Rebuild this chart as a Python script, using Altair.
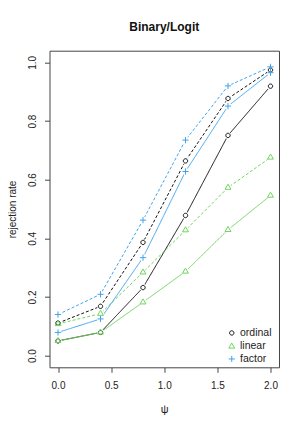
import altair as alt
import pandas as pd

psi = [0.0, 0.4, 0.8, 1.2, 1.6, 2.0]
methods = ["ordinal", "linear", "factor"]
line_types = ["solid", "dashed"]

ordinal_solid = [0.050, 0.079, 0.232, 0.478, 0.751, 0.919]
ordinal_dashed = [0.111, 0.168, 0.386, 0.664, 0.877, 0.974]
linear_solid = [0.050, 0.079, 0.182, 0.287, 0.429, 0.546]
linear_dashed = [0.108, 0.143, 0.284, 0.428, 0.573, 0.676]
factor_solid = [0.079, 0.125, 0.334, 0.628, 0.851, 0.965]
factor_dashed = [0.140, 0.209, 0.462, 0.735, 0.920, 0.985]

x_ticks = [0.0, 0.5, 1.0, 1.5, 2.0]
y_ticks = [0.0, 0.2, 0.4, 0.6, 0.8, 1.0]

series = {
    ("ordinal", "solid"): ordinal_solid,
    ("ordinal", "dashed"): ordinal_dashed,
    ("linear", "solid"): linear_solid,
    ("linear", "dashed"): linear_dashed,
    ("factor", "solid"): factor_solid,
    ("factor", "dashed"): factor_dashed,
}

rows = []
for m in methods:
    for t in line_types:
        for xv, yv in zip(psi, series[(m, t)]):
            rows.append({"psi": xv, "rate": yv, "method": m, "type": t,
                         "series": f"{m}-{t}"})
df = pd.DataFrame(rows)

colors = ["#111111", "#6FD45E", "#3FA3EC"]
CIRCLE = "M1,0A1,1,0,1,1,-1,0A1,1,0,1,1,1,0Z"
shapes = [
    CIRCLE,
    "M0,-1.555L1.347,0.778L-1.347,0.778Z",
    "M-1.414,0L1.414,0M0,-1.414L0,1.414",
]

FONT = "Liberation Sans"

xenc = alt.X("psi:Q", scale=alt.Scale(domain=[-0.08, 2.08], nice=False, zero=False),
             axis=alt.Axis(values=x_ticks, format=".1f", title="ψ", labelPadding=8,
                           titlePadding=13, titleFontSize=11))
yenc = alt.Y("rate:Q", scale=alt.Scale(domain=[-0.04, 1.04], nice=False, zero=False),
             axis=alt.Axis(values=y_ticks, format=".1f", title="rejection rate",
                           labelAngle=270, labelPadding=7, titlePadding=10,
                           titleFontSize=10))

lines = alt.Chart(df).mark_line(strokeWidth=1).encode(
    x=xenc, y=yenc,
    color=alt.Color("method:N", scale=alt.Scale(domain=methods, range=colors), legend=None),
    strokeDash=alt.StrokeDash("type:N", scale=alt.Scale(domain=line_types, range=[[1, 0], [3, 2]]), legend=None),
    detail="series:N",
)

# white halo under each marker, giving the gap of an R type="b" line
halos = alt.Chart(df).mark_point(filled=True, shape=CIRCLE, size=50, color="white",
                                 opacity=1, strokeWidth=0).encode(x=xenc, y=yenc)

leg = alt.Legend(title=None, orient="none", legendX=177, legendY=277,
                 labelFontSize=10.5, labelFont=FONT, labelColor="#222",
                 symbolSize=19, symbolStrokeWidth=1, rowPadding=1.5,
                 labelOffset=3, padding=0)

points = alt.Chart(df).mark_point(filled=False, size=19, strokeWidth=1, opacity=1).encode(
    x=xenc, y=yenc,
    color=alt.Color("method:N", scale=alt.Scale(domain=methods, range=colors), legend=leg),
    shape=alt.Shape("method:N", scale=alt.Scale(domain=methods, range=shapes), legend=leg),
)

chart = alt.layer(lines, halos, points).resolve_scale(
    color="independent", shape="independent", strokeDash="independent"
).properties(
    width=229.5, height=316.6,
    title=alt.TitleParams("Binary/Logit", fontSize=12, fontWeight="bold", font=FONT,
                          anchor="middle", offset=17, color="#111"),
    autosize=alt.AutoSizeParams(type="none"),
    padding={"left": 41.5, "top": 42.7, "right": 10, "bottom": 56},
).configure_view(
    stroke="#444", strokeWidth=1
).configure_axis(
    domain=False, grid=False, tickSize=5, tickColor="#444", tickWidth=1,
    labelFont=FONT, labelFontSize=10, labelColor="#222",
    titleFont=FONT, titleFontWeight="normal", titleColor="#222",
)

chart.save("out.html", embed_options={"renderer": "svg", "actions": False})
